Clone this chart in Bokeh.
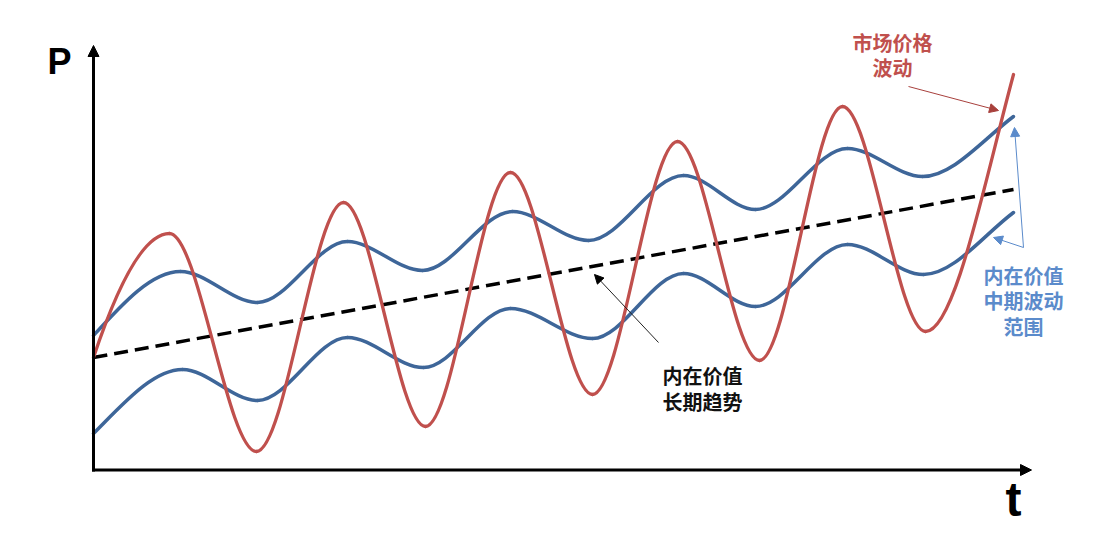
import numpy as np
from bokeh.plotting import figure
from bokeh.models import Range1d, Arrow, NormalHead, ColumnDataSource
from bokeh.core.properties import value
from bokeh.embed import file_html
from bokeh.resources import INLINE

# ---- data (pixel-like units, y grows downward) ----
# market price: key points (extrema) and tangent slopes at them
red_x = [93, 169, 256, 343, 425, 510, 592, 677, 759, 842, 925, 1013]
red_y = [357, 233, 451, 202, 426, 172, 394, 141, 360, 106, 331, 74]
red_s = [-3.0, 0, 0, 0, 0, 0, 0, 0, 0, 0, 0, -3.7]

# intrinsic value, upper band of mid-term range
up_x = [93, 180, 257, 347, 422, 512, 588, 683, 755, 847, 922, 1013]
up_y = [335, 271, 302, 241, 270, 211, 240, 175, 209, 148, 176, 116]
up_s = [-1.1, 0, 0, 0, 0, 0, 0, 0, 0, 0, 0, -0.75]

# intrinsic value, lower band of mid-term range
lo_x = [93, 182, 257, 347, 423, 510, 592, 683, 755, 847, 923, 1013]
lo_y = [433, 369, 400, 337, 367, 308, 338, 273, 306, 244, 274, 212]
lo_s = [-1.0, 0, 0, 0, 0, 0, 0, 0, 0, 0, 0, -0.75]

# long-term trend of intrinsic value
trend_x = [93, 1013]
trend_y = [357, 189]

RED = "#C0504D"
BLUE = "#3E6699"
LBLUE = "#5B8BCB"

p = figure(width=1100, height=533, x_range=Range1d(0, 1100), y_range=Range1d(533, 0),
           output_backend="svg", toolbar_location=None, min_border=0,
           x_axis_type=None, y_axis_type=None)
p.grid.visible = False
p.outline_line_color = None
p.background_fill_color = "white"


def bez_source(xs, ys, ss):
    xs = np.asarray(xs, float); ys = np.asarray(ys, float); ss = np.asarray(ss, float)
    dx = xs[1:] - xs[:-1]
    return ColumnDataSource(dict(
        x0=xs[:-1], y0=ys[:-1], x1=xs[1:], y1=ys[1:],
        cx0=xs[:-1] + dx / 3, cy0=ys[:-1] + ss[:-1] * dx / 3,
        cx1=xs[1:] - dx / 3, cy1=ys[1:] - ss[1:] * dx / 3))


for xs, ys, ss, col in [(lo_x, lo_y, lo_s, BLUE), (up_x, up_y, up_s, BLUE)]:
    p.bezier(x0="x0", y0="y0", x1="x1", y1="y1", cx0="cx0", cy0="cy0", cx1="cx1", cy1="cy1",
             source=bez_source(xs, ys, ss), line_color=col, line_width=3.5, line_cap="round")

p.line(trend_x, trend_y, line_color="black", line_width=3.5, line_dash="14 7")

p.bezier(x0="x0", y0="y0", x1="x1", y1="y1", cx0="cx0", cy0="cy0", cx1="cx1", cy1="cy1",
         source=bez_source(red_x, red_y, red_s), line_color=RED, line_width=3.3, line_cap="round")

# axes with arrows
p.add_layout(Arrow(end=NormalHead(size=11, fill_color="black", line_color="black", line_width=1),
                   x_start=93, y_start=471, x_end=93, y_end=45, line_width=3, line_color="black"))
p.add_layout(Arrow(end=NormalHead(size=11, fill_color="black", line_color="black", line_width=1),
                   x_start=91.5, y_start=469.5, x_end=1031, y_end=469.5, line_width=3, line_color="black"))

# annotation arrows
p.add_layout(Arrow(end=NormalHead(size=9, fill_color="black", line_color="black", line_width=1),
                   x_start=658, y_start=342, x_end=594, y_end=274, line_width=1, line_color="#222222"))
p.add_layout(Arrow(end=NormalHead(size=9, fill_color="#A8403C", line_color="#A8403C", line_width=1),
                   x_start=908, y_start=86, x_end=998, y_end=110, line_width=1, line_color="#A8403C"))
p.add_layout(Arrow(end=NormalHead(size=9, fill_color=LBLUE, line_color=LBLUE, line_width=1),
                   x_start=1023, y_start=247, x_end=1014, y_end=127, line_width=1, line_color=LBLUE))
p.add_layout(Arrow(end=NormalHead(size=9, fill_color=LBLUE, line_color=LBLUE, line_width=1),
                   x_start=1023, y_start=247, x_end=993, y_end=237, line_width=1, line_color=LBLUE))

# axis letters
p.text(x=[59], y=[61], text=["P"], text_align="center", text_baseline="middle",
       text_font=value("Liberation Sans"), text_font_size="36px", text_font_style="bold",
       text_color="black")
p.text(x=[1013], y=[499], text=["t"], text_align="center", text_baseline="middle",
       text_font=value("Liberation Sans"), text_font_size="48px", text_font_style="bold",
       text_color="black")

# annotation texts
cjk = value("Noto Sans CJK SC")
p.text(x=[702, 702], y=[375, 401], text=["内在价值", "长期趋势"], text_align="center",
       text_baseline="middle", text_font=cjk, text_font_size="20px", text_font_style="bold",
       text_color="#111111")
p.text(x=[892, 892], y=[42, 67], text=["市场价格", "波动"], text_align="center",
       text_baseline="middle", text_font=cjk, text_font_size="20px", text_font_style="bold",
       text_color=RED)
p.text(x=[1023, 1023, 1023], y=[275, 300, 326], text=["内在价值", "中期波动", "范围"],
       text_align="center", text_baseline="middle", text_font=cjk, text_font_size="20px",
       text_font_style="bold", text_color=LBLUE)

open("out.html", "w").write(file_html(p, INLINE))
